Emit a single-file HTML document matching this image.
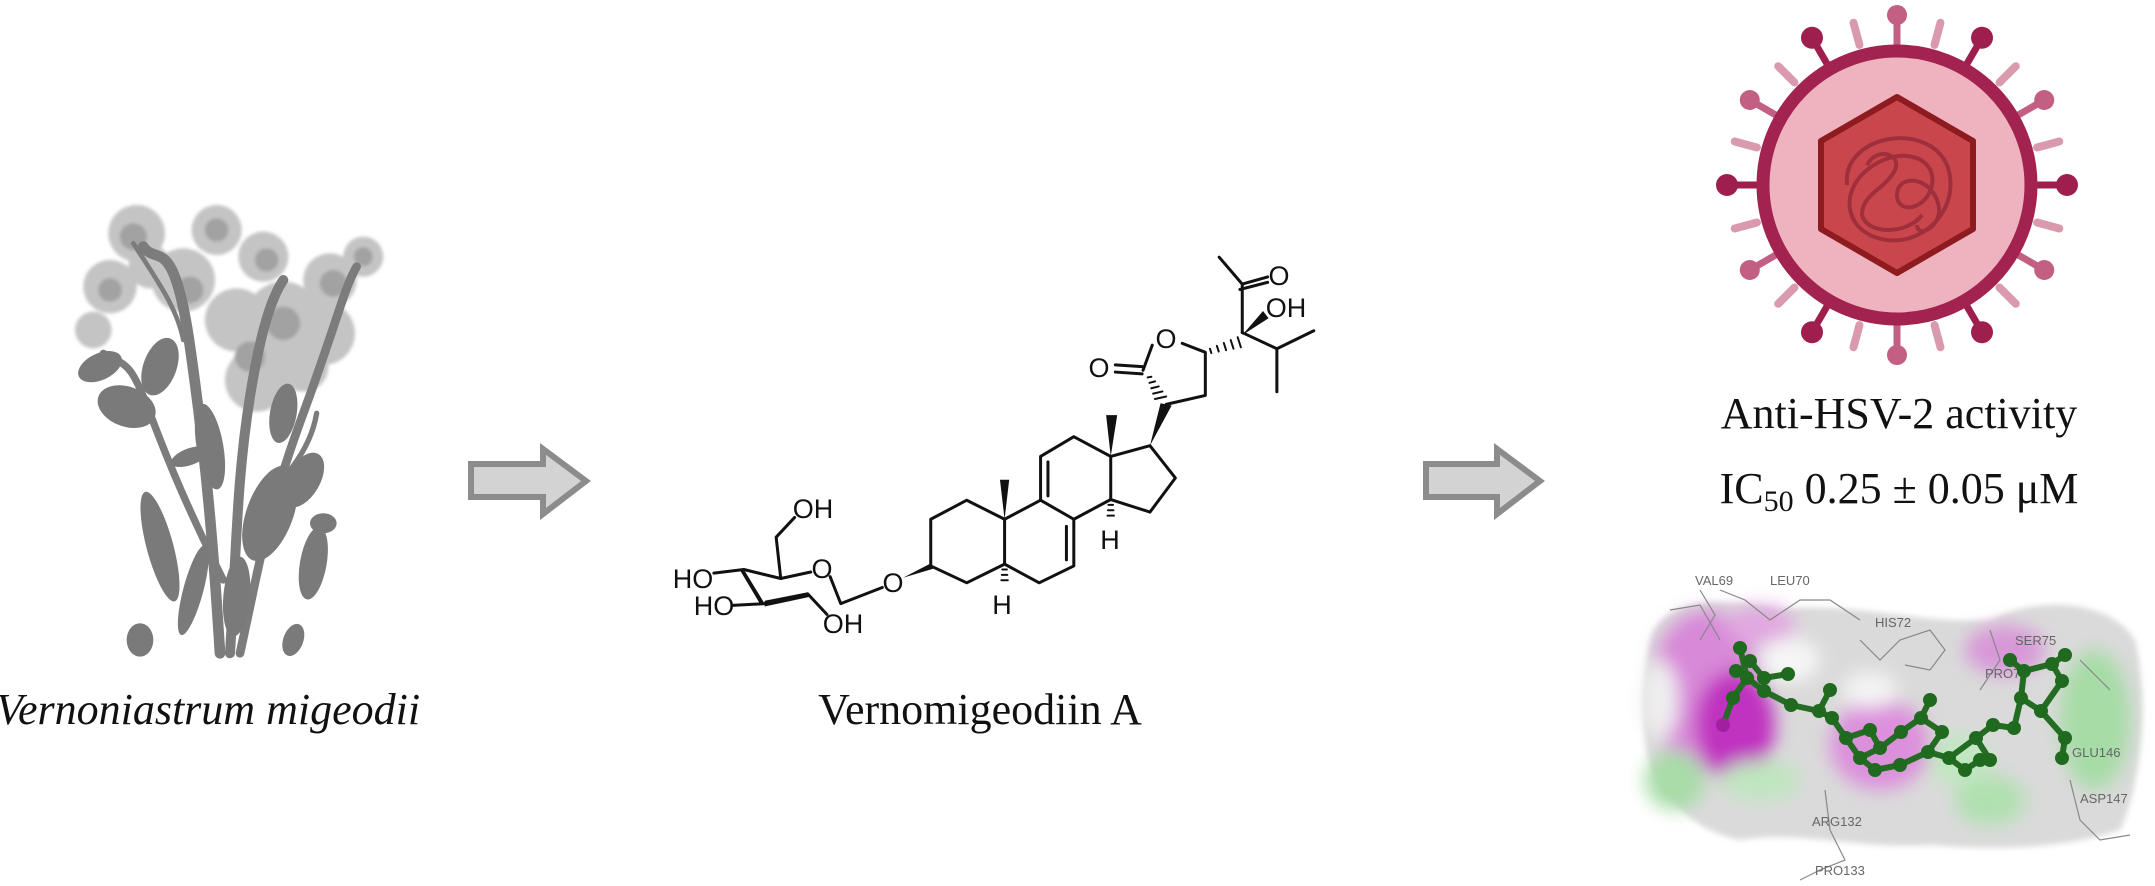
<!DOCTYPE html>
<html><head><meta charset="utf-8">
<style>
html,body{margin:0;padding:0;background:#fff;}
svg{display:block;}
</style></head>
<body>
<svg width="2155" height="886" viewBox="0 0 2155 886" xmlns="http://www.w3.org/2000/svg">
<defs>
<filter id="b3" x="-20%" y="-20%" width="140%" height="140%"><feGaussianBlur stdDeviation="3"/></filter>
<filter id="b5" x="-30%" y="-30%" width="160%" height="160%"><feGaussianBlur stdDeviation="5"/></filter>
<filter id="b8" x="-30%" y="-30%" width="160%" height="160%"><feGaussianBlur stdDeviation="9"/></filter>
</defs>
<rect width="2155" height="886" fill="#fff"/>

<!-- ===== Plant ===== -->
<g transform="translate(50,180) scale(0.3333,0.3333)">
  <g fill="#c4c4c4" filter="url(#b5)">
    <circle cx="260" cy="160" r="85"/><circle cx="500" cy="150" r="75"/><circle cx="640" cy="230" r="75"/>
    <circle cx="840" cy="300" r="80"/><circle cx="940" cy="230" r="60"/><circle cx="180" cy="320" r="80"/>
    <circle cx="400" cy="300" r="95"/><circle cx="700" cy="420" r="115"/><circle cx="560" cy="420" r="95"/>
    <circle cx="820" cy="460" r="95"/><circle cx="130" cy="450" r="55"/><circle cx="620" cy="600" r="95"/>
    <circle cx="300" cy="260" r="65"/><circle cx="760" cy="560" r="75"/>
  </g>
  <g fill="#a2a2a2" filter="url(#b5)">
    <circle cx="250" cy="170" r="40"/><circle cx="500" cy="150" r="35"/><circle cx="650" cy="240" r="35"/>
    <circle cx="850" cy="310" r="40"/><circle cx="940" cy="230" r="28"/><circle cx="180" cy="330" r="35"/>
    <circle cx="700" cy="430" r="50"/><circle cx="420" cy="330" r="40"/><circle cx="600" cy="530" r="45"/>
  </g>
  <g fill="none" stroke="#7c7c7c" stroke-linecap="round">
    <path d="M510 1420 C490 1100 470 850 420 500 S320 260 280 200" stroke-width="32"/>
    <path d="M540 1420 C560 1100 560 900 600 650 S680 330 700 300" stroke-width="30"/>
    <path d="M570 1420 C640 1100 650 1000 760 700 S880 330 920 260" stroke-width="26"/>
    <path d="M520 1200 C420 1000 360 860 300 700 S230 560 160 520" stroke-width="22"/>
    <path d="M600 1000 C700 900 780 820 800 700" stroke-width="16"/>
    <path d="M400 480 C380 380 320 300 250 190" stroke-width="14"/>
  </g>
  <g fill="#7a7a7a">
    <ellipse cx="330" cy="1100" rx="40" ry="170" transform="rotate(-15 330 1100)"/>
    <ellipse cx="430" cy="1230" rx="30" ry="140" transform="rotate(15 430 1230)"/>
    <ellipse cx="230" cy="680" rx="90" ry="60" transform="rotate(20 230 680)"/>
    <ellipse cx="150" cy="560" rx="70" ry="40" transform="rotate(-25 150 560)"/>
    <ellipse cx="330" cy="560" rx="50" ry="90" transform="rotate(20 330 560)"/>
    <ellipse cx="660" cy="1000" rx="70" ry="150" transform="rotate(20 660 1000)"/>
    <ellipse cx="760" cy="900" rx="50" ry="90" transform="rotate(30 760 900)"/>
    <ellipse cx="790" cy="1150" rx="40" ry="110" transform="rotate(10 790 1150)"/>
    <ellipse cx="480" cy="800" rx="40" ry="130" transform="rotate(-10 480 800)"/>
    <ellipse cx="270" cy="1380" rx="40" ry="50"/>
    <ellipse cx="730" cy="1380" rx="30" ry="50" transform="rotate(20 730 1380)"/>
    <ellipse cx="700" cy="700" rx="40" ry="90" transform="rotate(10 700 700)"/>
    <ellipse cx="820" cy="1030" rx="40" ry="30"/>
    <ellipse cx="420" cy="830" rx="60" ry="25" transform="rotate(-20 420 830)"/>
    <ellipse cx="560" cy="1250" rx="40" ry="120" transform="rotate(5 560 1250)"/>
  </g>
</g>
<text x="208" y="724" font-family="Liberation Serif, serif" font-style="italic" font-size="44" text-anchor="middle" fill="#111">Vernoniastrum migeodii</text>

<!-- ===== Arrows ===== -->
<path d="M471 464 H543 V449 L586 481 L543 514 V497 H471 Z" fill="#d3d3d3" stroke="#8c8c8c" stroke-width="6" stroke-linejoin="miter"/>
<path d="M1426 464 H1497 V449 L1540 481 L1497 514 V497 H1426 Z" fill="#d3d3d3" stroke="#8c8c8c" stroke-width="6" stroke-linejoin="miter"/>

<!-- ===== Molecule ===== -->
<g transform="translate(640,180) scale(0.4615,0.359)" fill="none" stroke="#111" stroke-linecap="round" stroke-linejoin="round">
  <g stroke-width="3">
    <path vector-effect="non-scaling-stroke" d="M160 1095 L225 1085 L305 1110 L370 1092"/>
    <path vector-effect="non-scaling-stroke" d="M412 1105 L435 1180 L525 1135"/>
    <path vector-effect="non-scaling-stroke" d="M200 1185 L270 1180"/>
    <path vector-effect="non-scaling-stroke" d="M365 1155 L405 1210"/>
    <path vector-effect="non-scaling-stroke" d="M305 1110 L295 995 L335 940"/>
    <path vector-effect="non-scaling-stroke" d="M630 1075 L630 945 L708 892 L790 945 L790 1070 L708 1122 Z"/>
    <path vector-effect="non-scaling-stroke" d="M790 945 L868 892 L940 945 L940 1075 L865 1122 L790 1070"/>
    <path vector-effect="non-scaling-stroke" d="M924 965 L924 1058"/>
    <path vector-effect="non-scaling-stroke" d="M868 892 L868 770 L940 715 L1020 770 L1020 890 L940 945"/>
    <path vector-effect="non-scaling-stroke" d="M884 785 L884 880"/>
    <path vector-effect="non-scaling-stroke" d="M1020 770 L1105 740 L1160 830 L1105 925 L1020 890"/>
    <path vector-effect="non-scaling-stroke" d="M1140 625 L1225 600 L1225 480 L1175 455"/>
    <path vector-effect="non-scaling-stroke" d="M1110 460 L1090 530"/>
    <path vector-effect="non-scaling-stroke" d="M1030 515 L1088 520 M1030 535 L1088 540"/>
    <path vector-effect="non-scaling-stroke" d="M1305 425 L1305 290 L1255 215"/>
    <path vector-effect="non-scaling-stroke" d="M1305 290 L1360 270 M1300 305 L1360 285"/>
    <path vector-effect="non-scaling-stroke" d="M1305 425 L1380 470 L1460 420 M1380 470 L1380 590"/>
    <path vector-effect="non-scaling-stroke" stroke-width="2" d="M785 1085 L795 1085 M784 1100 L796 1100 M783 1115 L797 1115"/>
    <path vector-effect="non-scaling-stroke" stroke-width="2" d="M1015 905 L1025 905 M1014 920 L1026 920 M1013 935 L1027 935"/>
    <path vector-effect="non-scaling-stroke" stroke-width="2" d="M1100 550 L1108 548 M1104 565 L1116 561 M1108 580 L1124 575 M1112 595 L1132 589 M1116 610 L1140 603"/>
    <path vector-effect="non-scaling-stroke" stroke-width="2" d="M1235 470 L1238 482 M1250 462 L1254 478 M1265 454 L1270 474 M1280 446 L1286 470 M1295 438 L1302 466"/>
  </g>
  <g fill="#111" stroke="none">
    <polygon points="225,1085 270,1180 262,1185 218,1090"/>
    <polygon points="270,1172 365,1148 365,1162 270,1188"/>
    <polygon points="570,1108 630,1068 635,1083"/>
    <polygon points="790,945 780,835 800,835"/>
    <polygon points="1020,770 1010,655 1034,655"/>
    <polygon points="1105,740 1128,622 1152,628"/>
    <polygon points="1305,432 1350,365 1362,385"/>
  </g>
</g>
<g font-family="Liberation Sans, sans-serif" font-size="27" fill="#111" text-anchor="middle">
  <text x="693" y="588">HO</text>
  <text x="822" y="578">O</text>
  <text x="714" y="615">HO</text>
  <text x="843" y="633">OH</text>
  <text x="813" y="518">OH</text>
  <text x="893" y="592">O</text>
  <text x="1002" y="614">H</text>
  <text x="1110" y="549">H</text>
  <text x="1166" y="348">O</text>
  <text x="1099" y="377">O</text>
  <text x="1279" y="285">O</text>
  <text x="1286" y="317">OH</text>
</g>
<text x="980" y="724" font-family="Liberation Serif, serif" font-size="44" text-anchor="middle" fill="#111">Vernomigeodiin A</text>

<!-- ===== Virus ===== -->
<g transform="translate(1897,185)">
  <g stroke-linecap="round">
    <g stroke="#d99aae" stroke-width="8">
      <line x1="0" y1="-145" x2="0" y2="-168" transform="rotate(15)"/>
      <line x1="0" y1="-145" x2="0" y2="-168" transform="rotate(45)"/>
      <line x1="0" y1="-145" x2="0" y2="-168" transform="rotate(75)"/>
      <line x1="0" y1="-145" x2="0" y2="-168" transform="rotate(105)"/>
      <line x1="0" y1="-145" x2="0" y2="-168" transform="rotate(135)"/>
      <line x1="0" y1="-145" x2="0" y2="-168" transform="rotate(165)"/>
      <line x1="0" y1="-145" x2="0" y2="-168" transform="rotate(195)"/>
      <line x1="0" y1="-145" x2="0" y2="-168" transform="rotate(225)"/>
      <line x1="0" y1="-145" x2="0" y2="-168" transform="rotate(255)"/>
      <line x1="0" y1="-145" x2="0" y2="-168" transform="rotate(285)"/>
      <line x1="0" y1="-145" x2="0" y2="-168" transform="rotate(315)"/>
      <line x1="0" y1="-145" x2="0" y2="-168" transform="rotate(345)"/>
    </g>
    <g transform="rotate(0)" fill="#c25f83" stroke="#c25f83" stroke-width="7"><line x1="0" y1="-140" x2="0" y2="-162"/><circle cx="0" cy="-170" r="10" stroke="none"/></g>
    <g transform="rotate(30)" fill="#9e1f4e" stroke="#9e1f4e" stroke-width="7"><line x1="0" y1="-140" x2="0" y2="-162"/><circle cx="0" cy="-170" r="11" stroke="none"/></g>
    <g transform="rotate(60)" fill="#c25f83" stroke="#c25f83" stroke-width="7"><line x1="0" y1="-140" x2="0" y2="-162"/><circle cx="0" cy="-170" r="10" stroke="none"/></g>
    <g transform="rotate(90)" fill="#9e1f4e" stroke="#9e1f4e" stroke-width="7"><line x1="0" y1="-140" x2="0" y2="-162"/><circle cx="0" cy="-170" r="11" stroke="none"/></g>
    <g transform="rotate(120)" fill="#c25f83" stroke="#c25f83" stroke-width="7"><line x1="0" y1="-140" x2="0" y2="-162"/><circle cx="0" cy="-170" r="10" stroke="none"/></g>
    <g transform="rotate(150)" fill="#9e1f4e" stroke="#9e1f4e" stroke-width="7"><line x1="0" y1="-140" x2="0" y2="-162"/><circle cx="0" cy="-170" r="11" stroke="none"/></g>
    <g transform="rotate(180)" fill="#c25f83" stroke="#c25f83" stroke-width="7"><line x1="0" y1="-140" x2="0" y2="-162"/><circle cx="0" cy="-170" r="10" stroke="none"/></g>
    <g transform="rotate(210)" fill="#9e1f4e" stroke="#9e1f4e" stroke-width="7"><line x1="0" y1="-140" x2="0" y2="-162"/><circle cx="0" cy="-170" r="11" stroke="none"/></g>
    <g transform="rotate(240)" fill="#c25f83" stroke="#c25f83" stroke-width="7"><line x1="0" y1="-140" x2="0" y2="-162"/><circle cx="0" cy="-170" r="10" stroke="none"/></g>
    <g transform="rotate(270)" fill="#9e1f4e" stroke="#9e1f4e" stroke-width="7"><line x1="0" y1="-140" x2="0" y2="-162"/><circle cx="0" cy="-170" r="11" stroke="none"/></g>
    <g transform="rotate(300)" fill="#c25f83" stroke="#c25f83" stroke-width="7"><line x1="0" y1="-140" x2="0" y2="-162"/><circle cx="0" cy="-170" r="10" stroke="none"/></g>
    <g transform="rotate(330)" fill="#9e1f4e" stroke="#9e1f4e" stroke-width="7"><line x1="0" y1="-140" x2="0" y2="-162"/><circle cx="0" cy="-170" r="11" stroke="none"/></g>
  </g>
  <circle r="134" fill="#efb3c0" stroke="#a2234f" stroke-width="13"/>
  <polygon points="0,-88 76,-44 76,44 0,88 -76,44 -76,-44" fill="#c9474c" stroke="#8e1b1f" stroke-width="6" stroke-linejoin="round"/>
  <g fill="none" stroke="#a02f3c" stroke-width="4">
    <path d="M-50 0 C-55 -50 30 -65 50 -20 C65 20 30 60 -10 55 C-50 50 -60 10 -30 -15 C0 -40 40 -30 35 0 C30 25 0 30 0 10 C0 -10 30 -10 40 15 C50 40 20 55 20 40"/>
    <path d="M-30 -20 C-20 -40 10 -30 -5 -10 C-15 5 -35 10 -35 30 C-30 50 10 50 25 30"/>
  </g>
</g>
<g font-family="Liberation Serif, serif" font-size="44" fill="#111" text-anchor="middle">
  <text x="1899" y="428">Anti-HSV-2 activity</text>
  <text x="1899" y="503">IC<tspan font-size="30" dy="8">50</tspan><tspan dy="-8"> 0.25 ± 0.05 μM</tspan></text>
</g>

<!-- ===== Docking ===== -->
<g>
  <path d="M1650 640 C1660 600 1720 595 1780 610 C1850 600 1920 625 1990 620 C2040 595 2110 600 2135 640 C2150 700 2140 790 2120 830 C2060 850 1990 850 1930 845 C1860 850 1800 830 1740 840 C1690 830 1650 790 1645 740 C1640 700 1645 670 1650 640 Z" fill="#dadada" filter="url(#b3)"/>
  <g filter="url(#b8)">
    <ellipse cx="1705" cy="690" rx="55" ry="80" fill="#d889d8"/>
    <ellipse cx="1735" cy="725" rx="40" ry="55" fill="#c030c0"/>
    <ellipse cx="1880" cy="745" rx="50" ry="45" fill="#dc90dc"/>
    <ellipse cx="2005" cy="650" rx="40" ry="25" fill="#d898d8"/>
    <ellipse cx="2095" cy="720" rx="35" ry="70" fill="#a6dca6"/>
    <ellipse cx="1675" cy="780" rx="30" ry="30" fill="#a8dca8"/>
    <ellipse cx="1990" cy="800" rx="35" ry="25" fill="#b0e0b0"/>
    <ellipse cx="1760" cy="625" rx="35" ry="20" fill="#e0a8e0"/>
    <ellipse cx="1960" cy="760" rx="30" ry="25" fill="#c0e8c0"/>
    <ellipse cx="1790" cy="660" rx="30" ry="22" fill="#f6f6f6"/>
    <ellipse cx="1870" cy="690" rx="28" ry="18" fill="#f4f4f4"/>
    <ellipse cx="1760" cy="780" rx="40" ry="20" fill="#bfe6bf"/>
    <ellipse cx="1660" cy="700" rx="18" ry="40" fill="#efefef"/>
  </g>
  <g fill="none" stroke="#888" stroke-width="1.2">
    <path d="M1700 590 L1715 615 L1700 640 M1720 590 L1745 600 L1770 620 L1800 600 L1830 600 L1860 620"/>
    <path d="M1860 640 L1880 660 L1900 640 L1930 630 L1945 650 L1930 670 L1905 665"/>
    <path d="M1825 790 L1830 830 L1845 860 L1820 870 L1800 880"/>
    <path d="M2070 780 L2080 820 L2100 840 L2130 835 M2080 660 L2110 690"/>
    <path d="M1670 610 L1700 605 L1720 640 M1990 630 L2000 660 L1980 690"/>
  </g>
  <g font-family="Liberation Sans, sans-serif" font-size="13" fill="#666">
    <text x="1695" y="585">VAL69</text><text x="1770" y="585">LEU70</text>
    <text x="1875" y="627">HIS72</text><text x="2015" y="645">SER75</text>
    <text x="1985" y="678">PRO74</text><text x="2072" y="757">GLU146</text>
    <text x="2080" y="803">ASP147</text><text x="1812" y="826">ARG132</text>
    <text x="1815" y="875">PRO133</text>
  </g>
  <g fill="none" stroke="#246b24" stroke-width="6" stroke-linejoin="round">
    <path d="M1740 648 L1747 678 L1733 698 M1747 678 L1764 691 L1791 705 L1819 711 L1832 718 L1846 738 L1860 758 L1880 748 L1901 732 L1921 718 L1942 732 L1928 752 L1949 758 L1976 738 L1993 725 L2014 728 L2021 698 L2024 671 L2052 664 L2062 681 L2041 711 L2065 738 L2062 758"/>
    <path d="M1750 661 L1764 678 L1788 674 M1736 671 L1747 678 M1733 698 L1723 725 M1819 711 L1830 690 M1846 738 L1870 730 L1880 748 M1921 718 L1930 700 M1949 758 L1965 770 L1980 760 M2021 698 L2041 711 M2024 671 L2010 660 M2052 664 L2065 655 M1860 758 L1875 770 L1900 765 L1928 752 M1976 738 L1990 760"/>
  </g>
  <g fill="#1f6a1f">
    <circle cx="1740" cy="648" r="7"/><circle cx="1747" cy="678" r="7"/><circle cx="1733" cy="698" r="7"/>
    <circle cx="1764" cy="691" r="7"/><circle cx="1791" cy="705" r="7"/><circle cx="1819" cy="711" r="7"/>
    <circle cx="1832" cy="718" r="7"/><circle cx="1846" cy="738" r="7"/><circle cx="1860" cy="758" r="7"/>
    <circle cx="1880" cy="748" r="7"/><circle cx="1901" cy="732" r="7"/><circle cx="1921" cy="718" r="7"/>
    <circle cx="1942" cy="732" r="7"/><circle cx="1928" cy="752" r="7"/><circle cx="1949" cy="758" r="7"/>
    <circle cx="1976" cy="738" r="7"/><circle cx="1993" cy="725" r="7"/><circle cx="2014" cy="728" r="7"/>
    <circle cx="2021" cy="698" r="7"/><circle cx="2024" cy="671" r="7"/><circle cx="2052" cy="664" r="7"/>
    <circle cx="2062" cy="681" r="7"/><circle cx="2041" cy="711" r="7"/><circle cx="2065" cy="738" r="7"/>
    <circle cx="2062" cy="758" r="7"/><circle cx="1750" cy="661" r="7"/><circle cx="1764" cy="678" r="7"/>
    <circle cx="1788" cy="674" r="7"/><circle cx="1736" cy="671" r="7"/><circle cx="1830" cy="690" r="7"/>
    <circle cx="1870" cy="730" r="7"/><circle cx="1930" cy="700" r="7"/><circle cx="1965" cy="770" r="7"/>
    <circle cx="1980" cy="760" r="7"/><circle cx="2010" cy="660" r="7"/><circle cx="2065" cy="655" r="7"/>
    <circle cx="1875" cy="770" r="7"/><circle cx="1900" cy="765" r="7"/><circle cx="1990" cy="760" r="7"/>
  </g>
  <circle cx="1723" cy="725" r="7" fill="#a020a0"/>
</g>
</svg>
</body></html>
